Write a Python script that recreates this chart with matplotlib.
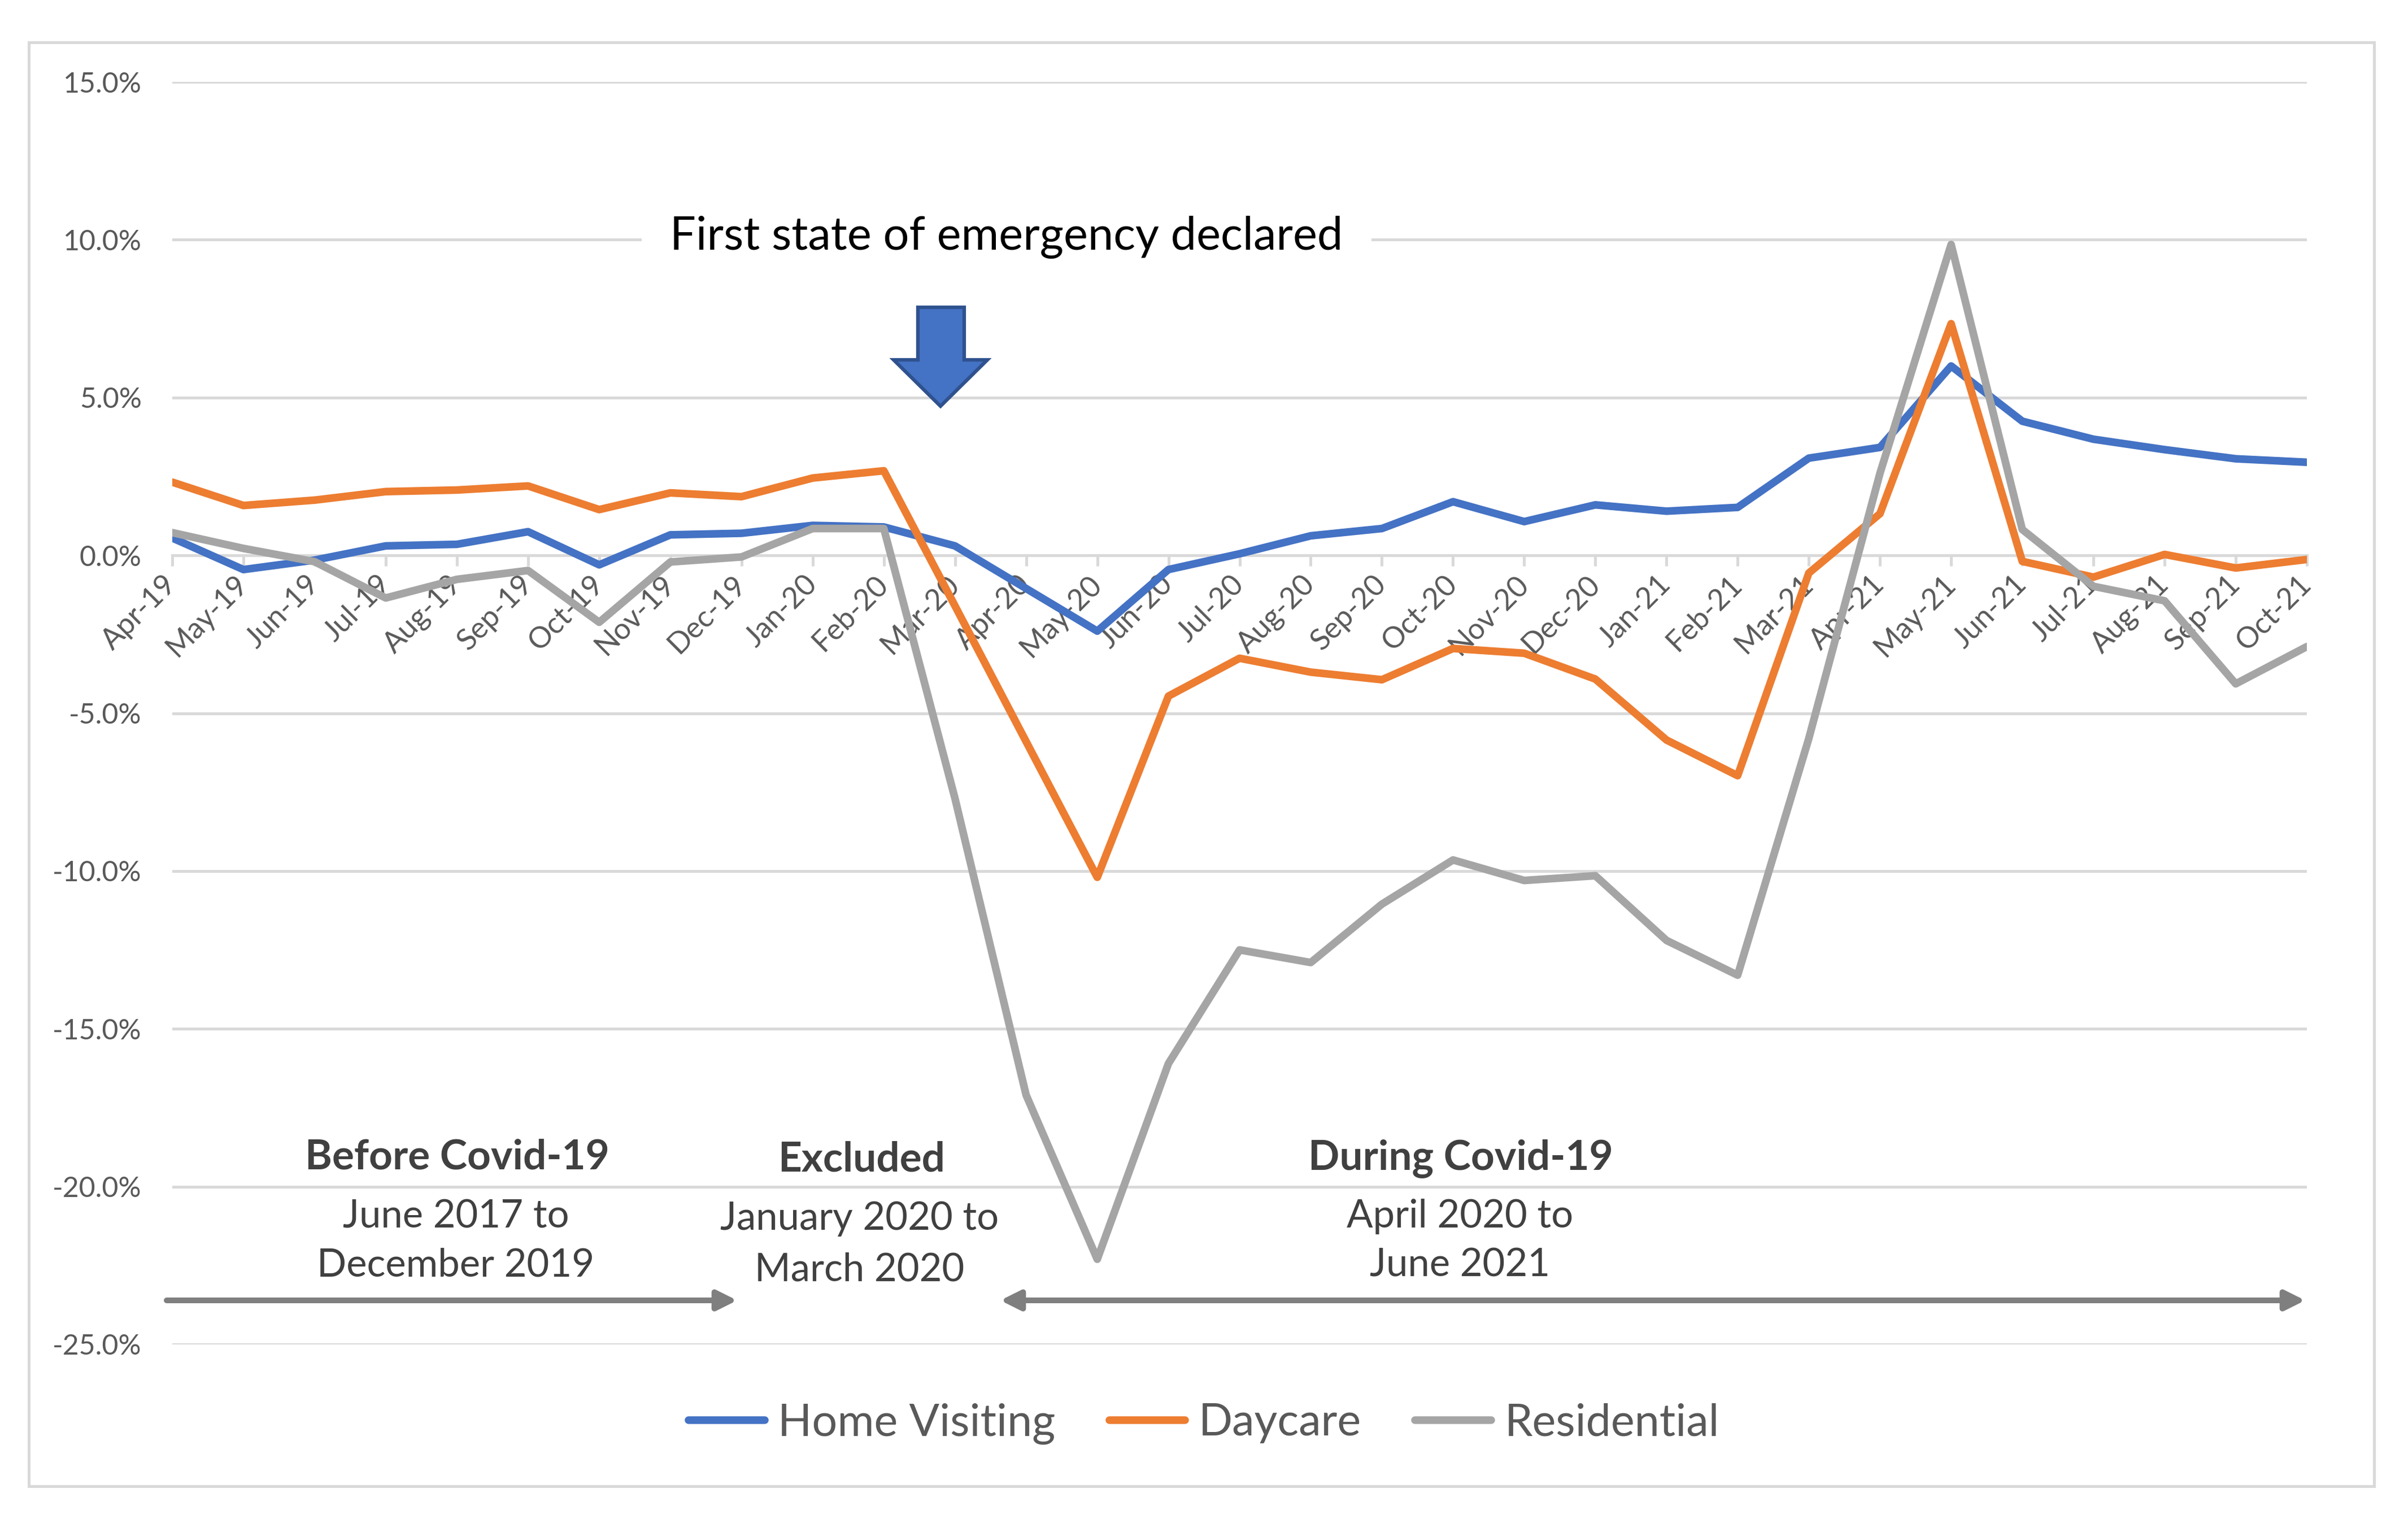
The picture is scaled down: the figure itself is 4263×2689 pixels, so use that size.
import numpy as np
import matplotlib
matplotlib.use('Agg')
import matplotlib.pyplot as plt
from matplotlib.patches import Rectangle, Polygon, FancyArrowPatch
from matplotlib.lines import Line2D

plt.rcParams['font.family'] = ['Lato', 'DejaVu Sans']

months = ['Apr-19', 'May-19', 'Jun-19', 'Jul-19', 'Aug-19', 'Sep-19', 'Oct-19',
          'Nov-19', 'Dec-19', 'Jan-20', 'Feb-20', 'Mar-20', 'Apr-20', 'May-20',
          'Jun-20', 'Jul-20', 'Aug-20', 'Sep-20', 'Oct-20', 'Nov-20', 'Dec-20',
          'Jan-21', 'Feb-21', 'Mar-21', 'Apr-21', 'May-21', 'Jun-21', 'Jul-21',
          'Aug-21', 'Sep-21', 'Oct-21']

home_visiting = [0.55, -0.45, -0.15, 0.3, 0.35, 0.75, -0.3, 0.65, 0.7, 0.95, 0.9,
                 0.3, -1.05, -2.4, -0.45, 0.05, 0.62, 0.85, 1.7, 1.07, 1.6,
                 1.4, 1.52, 3.08, 3.42, 6.0, 4.25, 3.68, 3.35, 3.06, 2.95]
daycare = [2.32, 1.58, 1.75, 2.02, 2.07, 2.2, 1.45, 1.98, 1.86, 2.45, 2.68,
           -1.6, -5.9, -10.2, -4.46, -3.26, -3.7, -3.94, -2.95, -3.1, -3.92,
           -5.85, -6.98, -0.56, 1.32, 7.34, -0.19, -0.69, 0.03, -0.4, -0.13]
residential = [0.72, 0.22, -0.2, -1.35, -0.76, -0.48, -2.12, -0.21, -0.05, 0.85, 0.85,
               -7.7, -17.1, -22.3, -16.1, -12.5, -12.9, -11.05, -9.65, -10.3, -10.15,
               -12.2, -13.3, -5.8, 2.6, 9.85, 0.82, -0.98, -1.44, -4.07, -2.89]

series_names = ['Home Visiting', 'Daycare', 'Residential']
series_colors = ['#4472C4', '#ED7D31', '#A5A5A5']

yticks = [15, 10, 5, 0, -5, -10, -15, -20, -25]

W, H = 4263, 2689
fig = plt.figure(figsize=(W / 300, H / 300), dpi=300)

def fx(px):
    return px / W

def fy(py):
    return 1 - py / H

# outer chart border
fig.patches.append(Rectangle((fx(51), fy(2631)), fx(4203) - fx(51), fy(75) - fy(2631),
                             transform=fig.transFigure, fill=False,
                             edgecolor='#D9D9D9', lw=1.2, zorder=0))

ax = fig.add_axes([fx(305), fy(2380), fx(4084) - fx(305), fy(145) - fy(2380)])
x = np.arange(len(months))

for vals, name, col in zip([home_visiting, daycare, residential], series_names, series_colors):
    ax.plot(x, vals, color=col, lw=3.25, label=name, solid_capstyle='round',
            solid_joinstyle='round', zorder=3)

# x axis crosses at 0 (set before tick labels, it resets ticks)
for s in ['top', 'right', 'left']:
    ax.spines[s].set_visible(False)
ax.spines['bottom'].set_position(('data', 0))
ax.spines['bottom'].set_color('#D9D9D9')
ax.spines['bottom'].set_linewidth(1.2)
ax.spines['bottom'].set_zorder(1)

ax.set_xlim(0, len(months) - 1)
ax.set_ylim(-25, 15)
ax.set_yticks(yticks)
ax.set_yticklabels([f'{v:.1f}%' for v in yticks])
ax.set_xticks(x)
ax.set_xticklabels(months)
ax.tick_params(axis='x', direction='out', length=4.5, width=1.2, color='#D9D9D9',
               labelsize=12.5, labelcolor='#595959', pad=6)
ax.tick_params(axis='y', length=0, labelsize=12, labelcolor='#595959', pad=13)
for lab in ax.get_xticklabels():
    lab.set_rotation(45)
    lab.set_ha('right')
    lab.set_va('center')
    lab.set_rotation_mode('anchor')

ax.grid(axis='y', color='#D9D9D9', lw=1.2, zorder=0)

# annotation: emergency declaration
fig.text(fx(1782), fy(442), 'First state of emergency declared', ha='center',
         va='baseline', fontsize=19.5, color='black',
         bbox=dict(facecolor='white', edgecolor='none', pad=12), zorder=5)

arrow_pts = [(1625, 544), (1707, 544), (1707, 637), (1748, 637), (1665, 719),
             (1582, 637), (1625, 637)]
fig.patches.append(Polygon([(fx(a), fy(b)) for a, b in arrow_pts], closed=True,
                           transform=fig.transFigure, facecolor='#4472C4',
                           edgecolor='#2F528F', lw=1.5, zorder=5))

# period labels
lab_col = '#404040'
fig.text(fx(809), fy(2070), 'Before Covid-19', ha='center', va='baseline',
         fontsize=17.5, fontweight='bold', color=lab_col)
fig.text(fx(807), fy(2173), 'June 2017 to', ha='center', va='baseline', fontsize=16.5, color=lab_col)
fig.text(fx(807), fy(2259), 'December 2019', ha='center', va='baseline', fontsize=16.5, color=lab_col)

fig.text(fx(1525), fy(2074), 'Excluded', ha='center', va='baseline',
         fontsize=17.5, fontweight='bold', color=lab_col)
fig.text(fx(1522), fy(2177), 'January 2020 to', ha='center', va='baseline', fontsize=16.5, color=lab_col)
fig.text(fx(1522), fy(2267), 'March 2020', ha='center', va='baseline', fontsize=16.5, color=lab_col)

fig.text(fx(2586), fy(2070), 'During Covid-19', ha='center', va='baseline',
         fontsize=17.5, fontweight='bold', color=lab_col)
fig.text(fx(2585), fy(2173), 'April 2020 to', ha='center', va='baseline', fontsize=16.5, color=lab_col)
fig.text(fx(2585), fy(2259), 'June 2021', ha='center', va='baseline', fontsize=16.5, color=lab_col)

for (xa, xb, style) in [(295, 1305, '-|>'), (1771, 4081, '<|-|>')]:
    fig.patches.append(FancyArrowPatch((fx(xa), fy(2302)), (fx(xb), fy(2302)),
                                       transform=fig.transFigure,
                                       arrowstyle=f'{style},head_length=0.7,head_width=0.35',
                                       mutation_scale=10, color='#7F7F7F', lw=2.4,
                                       shrinkA=0, shrinkB=0, zorder=5))

handles = [Line2D([0], [0], color=c, lw=3.25, solid_capstyle='round') for c in series_colors]
fig.legend(handles, series_names, loc='center', bbox_to_anchor=(0.5, fy(2520)), ncol=3,
           frameon=False, fontsize=19, labelcolor='#595959', handlelength=1.7,
           handletextpad=0.3, columnspacing=1.2)

fig.savefig('out.png', dpi=300)
